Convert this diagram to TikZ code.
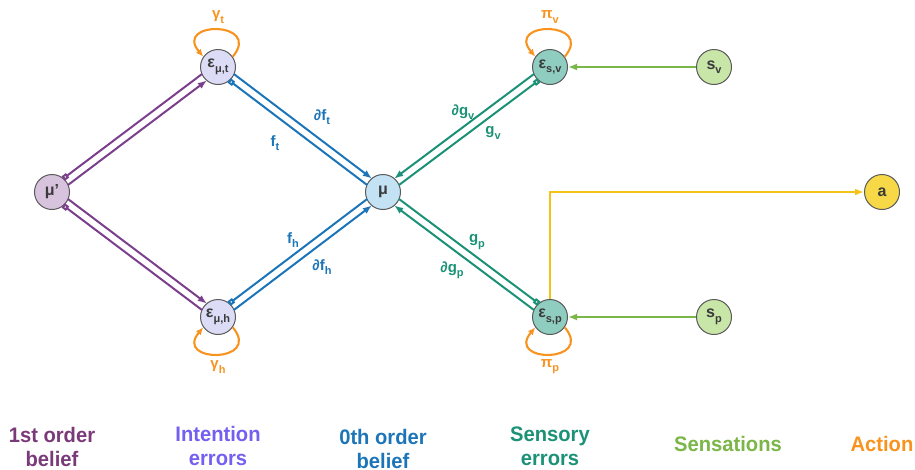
\documentclass[tikz,border=0pt]{standalone}
\usepackage{fontspec}
\setmainfont{Liberation Sans}
\newfontfamily\narrowfont[FakeStretch=0.96]{Liberation Sans}
\usetikzlibrary{arrows.meta,calc}

% palette
\definecolor{cPurple}{HTML}{7B3F8C}
\definecolor{cBlue}{HTML}{1C75B8}
\definecolor{cTeal}{HTML}{1B9277}
\definecolor{cLime}{HTML}{7AB648}
\definecolor{cGold}{HTML}{F2C417}
\definecolor{cOrange}{HTML}{F7931E}
\definecolor{cViolet}{HTML}{735FF0}
\definecolor{cPlum}{HTML}{7A3A78}
\definecolor{fPurple}{HTML}{D8C3DE}
\definecolor{fLav}{HTML}{DCDCF7}
\definecolor{fSky}{HTML}{C3E2F4}
\definecolor{fTeal}{HTML}{8ECDC0}
\definecolor{fLime}{HTML}{C8E6A8}
\definecolor{fGold}{HTML}{F7D948}
\definecolor{cRim}{HTML}{5A5A5A}
\definecolor{cInk}{HTML}{3A3A3A}

% lowered index in text
\newcommand\lowidx[1]{\raisebox{-0.28em}{\fontsize{11}{11}\selectfont #1}}
% offset of a wire from the centre line
\newcommand\wireoff{4pt}
% wire on the left / right of the direction #1 -> #2
\newcommand\leftwire[3]{\draw[wire,#3] ($(#1)!\wireoff!90:(#2)$) -- ($(#2)!\wireoff!-90:(#1)$);}
\newcommand\rightwire[3]{\draw[wire,#3] ($(#1)!\wireoff!-90:(#2)$) -- ($(#2)!\wireoff!90:(#1)$);}

\tikzset{
  x=1pt, y=1pt,
  unit/.style={circle, draw=cRim, line width=1pt, minimum size=35pt,
    inner sep=0pt, text=cInk, font=\bfseries\fontsize{16}{16}\selectfont},
  wire/.style={line width=2pt, shorten <=17pt, shorten >=17pt},
  headtip/.style={-{Latex[length=9pt,width=7pt]}},
  squaretip/.style={{Square[open,length=5.5pt,width=5.5pt]}-},
  feed/.style={line width=1.9pt, -{Latex[length=9pt,width=7pt]}},
  selfloop/.style={line width=2.1pt, cOrange, -{Latex[length=7.5pt,width=6.5pt]}},
  wlabel/.style={font=\bfseries\fontsize{15}{15}\selectfont, inner sep=0pt},
  legend/.style={font=\narrowfont\bfseries\fontsize{21}{24}\selectfont,
    align=center, inner sep=0pt, anchor=base},
}

\begin{document}
\begin{tikzpicture}
\useasboundingbox (0,0) rectangle (915,-469);

% units
\node[unit, fill=fPurple] (mup) at (52,-192) {μ'};
\node[unit, fill=fLav]    (et)  at (218,-67) {ε\lowidx{μ,t}};
\node[unit, fill=fLav]    (eh)  at (218,-317) {ε\lowidx{μ,h}};
\node[unit, fill=fSky]    (mu)  at (383,-192) {μ};
\node[unit, fill=fTeal]   (ev)  at (550,-67) {ε\lowidx{s,v}};
\node[unit, fill=fTeal]   (ep)  at (550,-317) {ε\lowidx{s,p}};
\node[unit, fill=fLime]   (sv)  at (714,-67) {s\lowidx{v}};
\node[unit, fill=fLime]   (sp)  at (714,-317) {s\lowidx{p}};
\node[unit, fill=fGold]   (act) at (882,-192) {a};

% first order belief <-> intention errors
\leftwire{mup}{et}{cPurple, squaretip}
\rightwire{mup}{et}{cPurple, headtip}
\leftwire{mup}{eh}{cPurple, headtip}
\rightwire{mup}{eh}{cPurple, squaretip}

% intention errors <-> belief
\leftwire{et}{mu}{cBlue, headtip}
\rightwire{et}{mu}{cBlue, squaretip}
\leftwire{eh}{mu}{cBlue, squaretip}
\rightwire{eh}{mu}{cBlue, headtip}

% sensory errors <-> belief
\leftwire{ev}{mu}{cTeal, squaretip}
\rightwire{ev}{mu}{cTeal, headtip}
\leftwire{ep}{mu}{cTeal, headtip}
\rightwire{ep}{mu}{cTeal, squaretip}

% sensations and action
\draw[feed, cLime] (sv) -- (ev);
\draw[feed, cLime] (sp) -- (ep);
\draw[feed, cGold] (ep.north) |- (act);

% precision loops
\draw[selfloop] (et.35) .. controls +(30,36) and +(-30,36) .. (et.145);
\draw[selfloop] (ev.35) .. controls +(30,36) and +(-30,36) .. (ev.145);
\draw[selfloop] (eh.-35) .. controls +(30,-36) and +(-30,-36) .. (eh.-145);
\draw[selfloop] (ep.-35) .. controls +(30,-36) and +(-30,-36) .. (ep.-145);

\node[wlabel, text=cOrange] (gt) at (218,-17) {γ\lowidx{t}};
\node[wlabel, text=cOrange] (gh) at (218,-367) {γ\lowidx{h}};
\node[wlabel, text=cOrange] (pv) at (550,-17) {π\lowidx{v}};
\node[wlabel, text=cOrange] (pp) at (550,-367) {π\lowidx{p}};

% wire labels
\node[wlabel, text=cBlue] (dft) at (322,-117) {∂f\lowidx{t}};
\node[wlabel, text=cBlue] (ft)  at (275,-143) {f\lowidx{t}};
\node[wlabel, text=cBlue] (fh)  at (293,-240) {f\lowidx{h}};
\node[wlabel, text=cBlue] (dfh) at (322,-267) {∂f\lowidx{h}};
\node[wlabel, text=cTeal] (dgv) at (463,-112) {∂g\lowidx{v}};
\node[wlabel, text=cTeal] (gv)  at (493,-133) {g\lowidx{v}};
\node[wlabel, text=cTeal] (gp)  at (477,-242) {g\lowidx{p}};
\node[wlabel, text=cTeal] (dgp) at (452,-270) {∂g\lowidx{p}};

% legend (anchored at the baseline of the last line)
\node[legend, text=cPlum]   (l1) at (52,-466)  {1st order\\belief};
\node[legend, text=cViolet] (l2) at (218,-465.5) {Intention\\errors};
\node[legend, text=cBlue]   (l3) at (383,-468) {0th order\\belief};
\node[legend, text=cTeal]   (l4) at (550,-465) {Sensory\\errors};
\node[legend, text=cLime]   (l5) at (728,-451) {Sensations};
\node[legend, text=cOrange] (l6) at (882,-451) {Action};
\end{tikzpicture}
\end{document}
